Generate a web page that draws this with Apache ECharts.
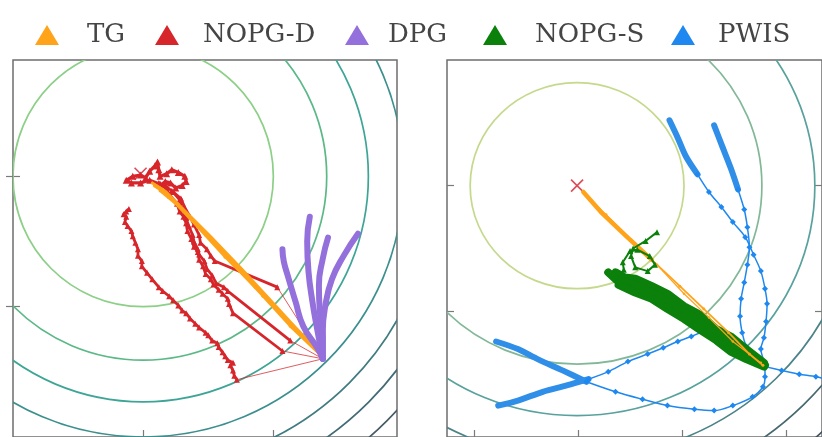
<!DOCTYPE html>
<html>
<head>
<meta charset="utf-8">
<script src="https://cdn.jsdelivr.net/npm/echarts@6/dist/echarts.min.js"></script>
<style>
  html, body { margin: 0; padding: 0; background: #fff; }
  #chart { width: 822px; height: 437px; }
</style>
</head>
<body>
<div id="chart"></div>
<script>
// ---- left panel (tick = 1 unit) ----
const leftCenter = [1, 2];
const leftCross = [0.98, 2.02];
const leftRingRadii = [1, 1.41, 1.73, 2, 2.24, 2.45, 2.65, 2.83];

// TG, straight runs from the start to the optimum
const tgL1 = [[2.38, 0.62], [2.21, 0.79], [1.98, 1.04], [1.75, 1.29], [1.52, 1.53], [1.32, 1.73], [1.17, 1.88], [1.09, 1.93]];
const tgL2 = [[2.36, 0.63], [2.13, 0.85], [1.92, 1.08], [1.69, 1.33], [1.48, 1.55], [1.29, 1.76], [1.15, 1.90], [1.07, 1.95]];
const tgL3 = [[2.35, 0.66], [2.09, 0.92], [1.86, 1.15], [1.63, 1.38], [1.42, 1.61], [1.25, 1.79], [1.13, 1.89]];

// NOPG-D, noisy runs (first point is the start)
const nopgD1 = [[2.38, 0.60], [1.72, 0.44], [1.70, 0.47], [1.69, 0.51], [1.67, 0.55], [1.69, 0.57], [1.65, 0.59], [1.63, 0.62], [1.61, 0.65],
  [1.58, 0.69], [1.57, 0.72], [1.53, 0.74], [1.50, 0.78], [1.48, 0.80], [1.43, 0.84], [1.40, 0.87], [1.36, 0.91], [1.33, 0.95],
  [1.30, 0.97], [1.27, 1.01], [1.23, 1.05], [1.20, 1.08], [1.15, 1.12], [1.12, 1.15], [1.07, 1.21], [1.03, 1.26], [0.99, 1.31],
  [0.99, 1.35], [0.96, 1.39], [0.96, 1.44], [0.94, 1.49], [0.92, 1.54], [0.91, 1.58], [0.88, 1.62], [0.86, 1.65], [0.87, 1.69],
  [0.85, 1.71], [0.87, 1.73], [0.89, 1.75]];
const nopgD2 = [[2.38, 0.60], [2.07, 0.66], [1.69, 0.95], [1.66, 1.02], [1.65, 1.06], [1.61, 1.10], [1.58, 1.13], [1.54, 1.17],
  [1.52, 1.21], [1.48, 1.25], [1.46, 1.31], [1.43, 1.36], [1.42, 1.42], [1.39, 1.46], [1.37, 1.52], [1.34, 1.58], [1.33, 1.64],
  [1.31, 1.69], [1.28, 1.73], [1.26, 1.79], [1.21, 1.85], [1.18, 1.90], [1.13, 1.94]];
const nopgD3 = [[2.38, 0.60], [2.13, 0.74], [1.65, 1.12], [1.62, 1.15], [1.56, 1.18], [1.53, 1.24], [1.49, 1.29], [1.47, 1.35],
  [1.43, 1.40], [1.42, 1.44], [1.39, 1.50], [1.38, 1.55], [1.35, 1.62], [1.33, 1.68], [1.30, 1.75], [1.28, 1.82], [1.23, 1.88],
  [1.18, 1.92], [1.12, 1.95]];
const nopgD4 = [[2.38, 0.60], [2.03, 1.15], [1.55, 1.35], [1.52, 1.39], [1.49, 1.44], [1.44, 1.49], [1.43, 1.55], [1.39, 1.63],
  [1.36, 1.69], [1.32, 1.76], [1.29, 1.83], [1.22, 1.89]];
const nopgD5 = [[1.13, 1.94], [1.05, 1.97], [0.98, 1.95], [0.91, 1.95], [0.87, 1.97], [0.92, 2.00], [0.98, 2.01], [1.02, 1.99],
  [1.05, 2.04], [1.09, 2.08], [1.11, 2.11], [1.12, 2.05], [1.13, 2.00], [1.18, 2.02], [1.22, 2.05], [1.27, 2.03], [1.32, 2.00],
  [1.33, 1.96], [1.30, 1.93], [1.25, 1.91], [1.21, 1.95], [1.17, 1.96], [1.13, 1.93]];

// DPG, fan of curved runs
const dpg1 = [[2.38, 0.60], [2.34, 0.68], [2.23, 0.85], [2.17, 1.04], [2.11, 1.24], [2.08, 1.35], [2.07, 1.44]];
const dpg2 = [[2.38, 0.60], [2.34, 0.81], [2.30, 1.04], [2.27, 1.27], [2.26, 1.50], [2.28, 1.69]];
const dpg3 = [[2.38, 0.60], [2.38, 0.76], [2.36, 0.93], [2.35, 1.16], [2.38, 1.37], [2.42, 1.53]];
const dpg4 = [[2.38, 0.60], [2.38, 0.81], [2.40, 1.01], [2.45, 1.21], [2.54, 1.39], [2.65, 1.56]];

// ---- right panel ----
const rightCenter = [1.99, 2.0];
const rightCross = [1.99, 2.0];
const rightRingRx = [1.03, 1.78, 2.29, 2.71, 3.08, 3.40];
const rightRingRy = [0.82, 1.42, 1.83, 2.17, 2.47, 2.72];

const tgR1 = [[3.78, 0.57], [3.65, 0.66], [3.45, 0.83], [3.21, 1.02], [2.98, 1.20], [2.71, 1.41], [2.46, 1.60], [2.22, 1.79], [2.05, 1.95]];
const tgR2 = [[3.76, 0.59], [3.49, 0.76], [3.26, 0.95], [3.02, 1.14], [2.76, 1.37], [2.51, 1.57], [2.27, 1.77], [2.08, 1.92]];

// NOPG-S, dense band plus one loose run
const nopgS1 = [[3.79, 0.59], [3.62, 0.70], [3.47, 0.80], [3.33, 0.86], [3.18, 0.97], [3.02, 1.04], [2.86, 1.14], [2.71, 1.20],
  [2.55, 1.26], [2.45, 1.27], [2.36, 1.31]];
const nopgS2 = [[3.80, 0.57], [3.61, 0.66], [3.48, 0.74], [3.33, 0.82], [3.19, 0.91], [3.02, 0.99], [2.87, 1.08], [2.71, 1.15],
  [2.55, 1.21], [2.37, 1.25], [2.29, 1.31]];
const nopgS3 = [[3.79, 0.56], [3.62, 0.62], [3.47, 0.68], [3.33, 0.77], [3.18, 0.85], [3.02, 0.94], [2.86, 1.02], [2.71, 1.10],
  [2.55, 1.15], [2.39, 1.21]];
const nopgS4 = [[2.38, 1.24], [2.44, 1.33], [2.43, 1.39], [2.50, 1.48], [2.57, 1.49], [2.69, 1.44], [2.74, 1.37], [2.67, 1.32],
  [2.55, 1.35], [2.51, 1.44], [2.53, 1.50], [2.65, 1.56], [2.76, 1.63]];

// PWIS
const pwis1 = [[2.88, 2.52], [2.96, 2.38], [3.04, 2.23], [3.15, 2.09], [3.26, 1.95], [3.38, 1.83], [3.49, 1.71], [3.61, 1.59],
  [3.69, 1.45], [3.76, 1.32], [3.80, 1.18], [3.82, 1.06], [3.81, 0.92], [3.79, 0.79], [3.76, 0.70], [3.79, 0.60], [3.80, 0.56]];
const pwis2 = [[3.31, 2.48], [3.38, 2.33], [3.47, 2.14], [3.54, 1.97], [3.60, 1.81], [3.63, 1.67], [3.65, 1.51], [3.63, 1.37],
  [3.60, 1.23], [3.57, 1.10], [3.56, 0.96], [3.58, 0.83], [3.62, 0.72], [3.68, 0.64], [3.79, 0.56]];
const pwis3 = [[1.21, 0.76], [1.42, 0.70], [1.61, 0.62], [1.85, 0.53], [2.08, 0.44], [2.36, 0.36], [2.62, 0.30], [2.86, 0.25],
  [3.12, 0.22], [3.31, 0.21], [3.49, 0.25], [3.68, 0.32], [3.78, 0.40], [3.80, 0.48], [3.80, 0.56]];
const pwis4 = [[1.23, 0.25], [1.42, 0.29], [1.66, 0.36], [1.89, 0.41], [2.10, 0.46], [2.29, 0.52], [2.48, 0.60], [2.67, 0.66],
  [2.82, 0.71], [2.96, 0.76], [3.09, 0.80], [3.23, 0.84], [3.38, 0.81], [3.54, 0.74], [3.68, 0.65], [3.80, 0.56]];
const pwis5 = [[3.80, 0.56], [3.96, 0.53], [4.13, 0.50], [4.29, 0.48], [4.48, 0.44]];
const pwisHead = [4, 4, 5, 5, 0]; // points drawn thick at the start of each run

const legendNames = ["TG", "NOPG-D", "DPG", "NOPG-S", "PWIS"];

const COLORS = {
  TG: "#ffa31a",
  "NOPG-D": "#d7262b",
  DPG: "#9370db",
  "NOPG-S": "#0b800b",
  PWIS: "#1e88f0"
};
const leftRingColors = ["#8ccf87", "#5bb887", "#3ea596", "#3b8f8d", "#3f7b80", "#436b75", "#465b68", "#484e5c"];
const rightRingColors = ["#c4d98c", "#82b898", "#58a19d", "#4c8388", "#476771", "#45525e"];
// legend layout: icon left edge and gap before the text
const legendLeft = [30, 150, 340, 478, 666];
const legendPad = [23, 19, 14, 23, 18];

const chart = echarts.init(document.getElementById("chart"));

function rings(xi, yi, items, colors) {
  return {
    type: "custom",
    xAxisIndex: xi,
    yAxisIndex: yi,
    silent: true,
    z: 1,
    data: items,
    renderItem: function(params, api) {
      const c = api.coord([api.value(0), api.value(1)]);
      const s = api.size([api.value(2), api.value(3)]);
      const cs = params.coordSys;
      return {
        type: "ellipse",
        shape: { cx: c[0], cy: c[1], rx: s[0], ry: s[1] },
        style: { fill: "none", stroke: colors[api.value(4)], lineWidth: 1.7 },
        clipPath: { type: "rect", shape: { x: cs.x, y: cs.y, width: cs.width, height: cs.height } }
      };
    }
  };
}

function cross(xi, yi, pt) {
  return {
    type: "custom",
    xAxisIndex: xi,
    yAxisIndex: yi,
    silent: true,
    z: 3,
    data: [pt],
    renderItem: function(params, api) {
      const c = api.coord([api.value(0), api.value(1)]);
      const h = 6;
      const st = { stroke: "#dc4b5a", lineWidth: 1.6 };
      return {
        type: "group",
        children: [
          { type: "line", shape: { x1: c[0] - h, y1: c[1] - h, x2: c[0] + h, y2: c[1] + h }, style: st },
          { type: "line", shape: { x1: c[0] - h, y1: c[1] + h, x2: c[0] + h, y2: c[1] - h }, style: st }
        ]
      };
    }
  };
}

function path(name, data, xi, yi, width, opts) {
  opts = opts || {};
  return {
    name: name,
    type: "line",
    xAxisIndex: xi,
    yAxisIndex: yi,
    data: data,
    silent: true,
    smooth: opts.smooth || false,
    showSymbol: !!opts.symbol,
    showAllSymbol: true,
    symbol: opts.symbol || "none",
    symbolSize: opts.symbolSize || 4,
    z: opts.z || 2,
    itemStyle: { color: opts.color || COLORS[name], opacity: opts.opacity || 1 },
    lineStyle: { color: opts.color || COLORS[name], width: width, cap: "round", join: "round", opacity: opts.opacity || 1 },
    emphasis: { disabled: true }
  };
}

const series = [];
// contours
series.push(rings(0, 0, leftRingRadii.map((r, i) => [leftCenter[0], leftCenter[1], r, r, i]), leftRingColors));
series.push(rings(2, 2, rightRingRx.map((r, i) => [rightCenter[0], rightCenter[1], r, rightRingRy[i], i]), rightRingColors));

// left panel
series.push(cross(0, 0, leftCross));
[nopgD1, nopgD2, nopgD3, nopgD4].forEach(d => {
  series.push(path("NOPG-D", d.slice(0, 3), 0, 0, 1, { opacity: 0.75, z: 2 }));
  series.push(path("NOPG-D", d.slice(1), 0, 0, 2.8, { symbol: "triangle", symbolSize: 6, z: 3 }));
});
series.push(path("NOPG-D", nopgD5, 0, 0, 3.2, { symbol: "triangle", symbolSize: 7, z: 3 }));
[tgL1, tgL2, tgL3].forEach((d, i) => {
  series.push(path("TG", d, 0, 0, i === 0 ? 4 : 2.5, { symbol: "circle", symbolSize: 3, z: 4 }));
});
[dpg1, dpg2, dpg3, dpg4].forEach(d => {
  series.push(path("DPG", d, 0, 0, 6, { smooth: 0.5, z: 5 }));
});

// right panel
[pwis1, pwis2, pwis3, pwis4, pwis5].forEach((d, i) => {
  series.push(path("PWIS", d.slice(Math.max(pwisHead[i] - 1, 0)), 2, 2, 1.5, { symbol: "diamond", symbolSize: 6, smooth: 0.3, z: 2 }));
  if (pwisHead[i] > 0) {
    series.push(path("PWIS", d.slice(0, pwisHead[i]), 2, 2, 6, { smooth: 0.3, z: 2, color: "#2f8ee8" }));
  }
});
[nopgS1, nopgS2, nopgS3].forEach(d => {
  series.push(path("NOPG-S", d, 2, 2, 8, { z: 3 }));
});
series.push(path("NOPG-S", nopgS4, 2, 2, 2, { symbol: "triangle", symbolSize: 6, z: 5 }));
series.push(path("TG", tgR1, 2, 2, 1.8, { symbol: "circle", symbolSize: 3, z: 4 }));
series.push(path("TG", tgR1.slice(-4), 2, 2, 4.5, { z: 4 }));
series.push(path("TG", tgR2, 2, 2, 1.2, { symbol: "circle", symbolSize: 2.5, z: 4 }));
series.push(cross(2, 2, rightCross));

function tickAxis(gridIndex, pos, min, max, ticks) {
  return {
    type: "value",
    gridIndex: gridIndex,
    position: pos,
    min: min,
    max: max,
    axisLine: { show: false },
    splitLine: { show: false },
    axisLabel: { show: false },
    axisTick: { show: true, inside: true, length: 7, customValues: ticks, lineStyle: { color: "#7a7a7a", width: 1.2 } }
  };
}

const legends = legendNames.map((n, i) => ({
  left: legendLeft[i],
  top: 17,
  itemWidth: 24,
  itemHeight: 20,
  icon: "triangle",
  selectedMode: false,
  textStyle: { fontFamily: "DejaVu Serif", fontSize: 26, color: "#454545", padding: [0, 0, 0, legendPad[i]] },
  data: [{ name: n, itemStyle: { color: COLORS[n], opacity: 1 } }]
}));

const option = {
  animation: false,
  backgroundColor: "#fff",
  legend: legends,
  grid: [
    { left: 13, top: 60, width: 384, height: 379, show: true, borderColor: "#6e6e6e", borderWidth: 1.5, backgroundColor: "transparent" },
    { left: 447, top: 60, width: 384, height: 378, show: true, borderColor: "#6e6e6e", borderWidth: 1.5, backgroundColor: "transparent" }
  ],
  xAxis: [
    tickAxis(0, "bottom", 0, 2.95, [1, 2]),
    tickAxis(0, "top", 0, 2.95, [1, 2]),
    tickAxis(1, "bottom", 0.737, 4.349, [1, 2, 3, 4]),
    tickAxis(1, "top", 0.737, 4.349, [1, 2, 3, 4])
  ],
  yAxis: [
    tickAxis(0, "left", 0, 2.893, [1, 2]),
    tickAxis(0, "right", 0, 2.893, [1, 2]),
    tickAxis(1, "left", 0, 3, [1, 2]),
    tickAxis(1, "right", 0, 3, [1, 2])
  ],
  series: series
};

chart.setOption(option);
</script>
</body>
</html>
